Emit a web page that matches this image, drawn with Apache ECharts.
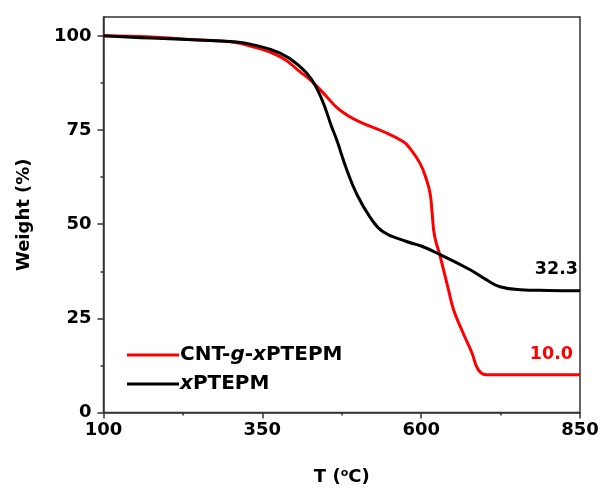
<!DOCTYPE html>
<html>
<head>
<meta charset="utf-8">
<script src="https://cdn.jsdelivr.net/npm/echarts@6/dist/echarts.min.js"></script>
<style>html,body{margin:0;padding:0;background:#fff}#c{width:607px;height:491px}</style>
</head>
<body>
<div id="c"></div>
<script>
// ---- data ----
const seriesNames = ['CNT-g-xPTEPM', 'xPTEPM'];
const redData = [[100,100],[175,99.7],[250,98.9],[300,98.4],[331,97.3],[378,94.5],[409,90.5],[428,87.9],[451,83.9],[467,81],[483,79],[504,77.1],[540,74.6],[572,71.9],[582,70.2],[598,66.2],[608,62],[614,58.2],[617,53.5],[621,47],[630,41.4],[643,32.6],[651,27.3],[666,21.1],[680,15.8],[690,11.3],[703,10],[720,10],[850,10]];
const blackData = [[100,100],[175,99.4],[250,98.9],[300,98.5],[331,97.8],[378,95.4],[409,91.9],[428,88.3],[444,83],[459,75.9],[467,72.4],[483,64.4],[498,58.2],[519,52],[540,48],[577,45.4],[600,44.2],[630,41.9],[677,37.9],[703,35.2],[724,33.4],[756,32.6],[800,32.4],[850,32.3]];
const endValues = [10.0, 32.3];
const endLabels = ['10.0', '32.3'];
const xTicks = [100, 350, 600, 850];
const xMinor = [225, 475, 725];
const yTicks = [0, 25, 50, 75, 100];
const yMinor = [12.5, 37.5, 62.5, 87.5];

const FONT = 'DejaVu Sans, sans-serif';
const AX = '#333';

function endMark(value, text, color, off) {
  return {
    symbol: 'circle', symbolSize: 0, silent: true,
    itemStyle: { color: 'rgba(0,0,0,0)' },
    data: [{ coord: [850, value] }],
    label: { show: true, formatter: text, position: 'top', align: 'right', distance: 5, offset: off,
      color: color, fontFamily: FONT, fontWeight: 'bold', fontSize: 17.5 }
  };
}

const chart = echarts.init(document.getElementById('c'), null, { renderer: 'canvas' });
const grid = { left: 103.5, right: 27, top: 17, bottom: 78, show: true, borderColor: AX, borderWidth: 1.5, backgroundColor: 'transparent' };
chart.setOption({
  animation: false,
  backgroundColor: '#fff',
  grid: grid,
  legend: {
    orient: 'vertical', left: 122, top: 339,
    itemWidth: 52, itemHeight: 3, itemGap: 7, icon: 'rect',
    data: seriesNames,
    formatter: function (n) {
      return n === seriesNames[0] ? '{b|CNT-}{i|g}{b|-}{i|x}{b|PTEPM}' : '{i|x}{b|PTEPM}';
    },
    textStyle: {
      fontFamily: FONT, fontWeight: 'bold', fontSize: 20, color: '#000', lineHeight: 22, padding: [0, 0, 0, -4],
      rich: {
        b: { fontFamily: FONT, fontWeight: 'bold', fontSize: 20, color: '#000' },
        i: { fontFamily: FONT, fontWeight: 'bold', fontStyle: 'italic', fontSize: 20, color: '#000' }
      }
    }
  },
  xAxis: [{
    type: 'value', min: 100, max: 850,
    axisLine: { show: true, onZero: false, lineStyle: { color: AX, width: 1.5 } },
    axisTick: { show: true, length: 6, customValues: xTicks, lineStyle: { color: AX, width: 1.5 } },
    axisLabel: { customValues: xTicks, margin: 9, color: '#000', fontFamily: FONT, fontWeight: 'bold', fontSize: 18 },
    splitLine: { show: false },
    name: '{n|T (}{s|o}{n|C)}', nameLocation: 'middle', nameGap: 55,
    nameTextStyle: { rich: {
      n: { fontFamily: FONT, fontWeight: 'bold', fontSize: 18, color: '#000' },
      s: { fontFamily: FONT, fontWeight: 'bold', fontSize: 11, color: '#000', verticalAlign: 'top', padding: [0, 0, 8, 0] }
    } }
  }, {
    type: 'value', min: 100, max: 850, position: 'bottom',
    axisLine: { show: false },
    axisTick: { show: true, length: 3, customValues: xMinor, lineStyle: { color: AX, width: 1.5 } },
    axisLabel: { show: false }, splitLine: { show: false }
  }],
  yAxis: [{
    type: 'value', min: 0, max: 105,
    axisLine: { show: true, onZero: false, lineStyle: { color: AX, width: 1.5 } },
    axisTick: { show: true, length: 6, customValues: yTicks, lineStyle: { color: AX, width: 1.5 } },
    axisLabel: { customValues: yTicks, margin: 12, color: '#000', fontFamily: FONT, fontWeight: 'bold', fontSize: 18 },
    splitLine: { show: false },
    name: 'Weight (%)', nameLocation: 'middle', nameGap: 70, nameRotate: 90,
    nameTextStyle: { fontFamily: FONT, fontWeight: 'bold', fontSize: 18, color: '#000' }
  }, {
    type: 'value', min: 0, max: 105, position: 'left',
    axisLine: { show: false },
    axisTick: { show: true, length: 3, customValues: yMinor, lineStyle: { color: AX, width: 1.5 } },
    axisLabel: { show: false }, splitLine: { show: false }
  }],
  series: [{
    name: seriesNames[0], type: 'line', data: redData,
    showSymbol: false, symbol: 'none', smooth: 0.45,
    lineStyle: { color: '#ff0000', width: 3 }, itemStyle: { color: '#ff0000' }, z: 3,
    markPoint: endMark(endValues[0], endLabels[0], '#ff0000', [-7, -6])
  }, {
    name: seriesNames[1], type: 'line', data: blackData,
    showSymbol: false, symbol: 'none', smooth: 0.45,
    lineStyle: { color: '#000', width: 3 }, itemStyle: { color: '#000' }, z: 4,
    markPoint: endMark(endValues[1], endLabels[1], '#000', [-2, -7])
  }]
});
</script>
</body>
</html>
